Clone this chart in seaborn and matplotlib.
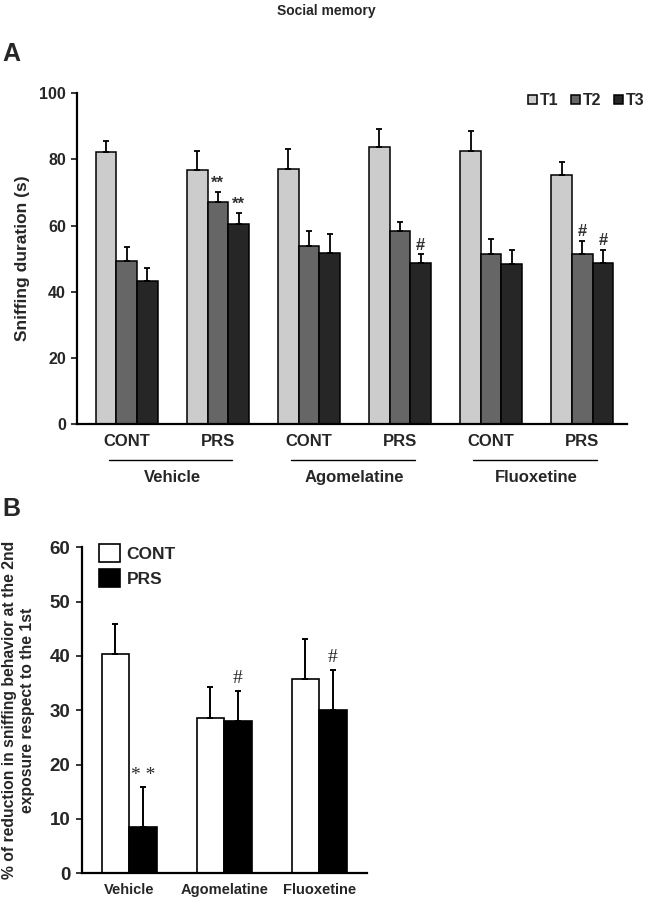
import numpy as np
import pandas as pd
import matplotlib
matplotlib.use("Agg")
import matplotlib.pyplot as plt
import matplotlib.transforms as mtransforms
import seaborn as sns

# ---- data ----
# panel A: sniffing duration (s), 6 groups x 3 trials
group_keys = ["Vehicle CONT", "Vehicle PRS", "Agomelatine CONT",
              "Agomelatine PRS", "Fluoxetine CONT", "Fluoxetine PRS"]
group_ticks = ["CONT", "PRS", "CONT", "PRS", "CONT", "PRS"]
treatments = ["Vehicle", "Agomelatine", "Fluoxetine"]
trials = ["T1", "T2", "T3"]

t1_mean = [82.3, 76.8, 77.2, 83.8, 82.7, 75.3]
t1_err = [3.4, 5.8, 5.9, 5.5, 5.9, 3.8]
t2_mean = [49.2, 67.2, 53.9, 58.3, 51.3, 51.3]
t2_err = [4.3, 2.9, 4.4, 2.9, 4.5, 4.1]
t3_mean = [43.1, 60.6, 51.7, 48.7, 48.4, 48.8]
t3_err = [4.1, 3.2, 5.9, 2.6, 4.3, 3.9]
t1_sig = ["", "", "", "", "", ""]
t2_sig = ["", "**", "", "", "", "#"]
t3_sig = ["", "**", "", "#", "", "#"]

# panel B: % reduction at 2nd exposure
cond_b = ["CONT", "PRS"]
cont_mean = [40.4, 28.5, 35.8]
cont_err = [5.4, 5.7, 7.3]
prs_mean = [8.6, 28.1, 30.1]
prs_err = [7.2, 5.5, 7.3]
prs_sig = ["* *", "#", "#"]

trial_colors = {"T1": "#cccccc", "T2": "#666666", "T3": "#262626"}
cond_colors = {"CONT": "white", "PRS": "black"}

sns.set_style("white")
plt.rcParams["font.family"] = ["Liberation Sans", "DejaVu Sans"]
plt.rcParams["font.weight"] = "bold"

df_a = pd.DataFrame({
    "group": group_keys * 3,
    "trial": [t for t in trials for _ in group_keys],
    "value": t1_mean + t2_mean + t3_mean,
})
errs_a = [t1_err, t2_err, t3_err]
sigs_a = [t1_sig, t2_sig, t3_sig]

df_b = pd.DataFrame({
    "treatment": treatments * 2,
    "cond": [c for c in cond_b for _ in treatments],
    "value": cont_mean + prs_mean,
})
errs_b = [cont_err, prs_err]
sigs_b = [["", "", ""], prs_sig]

fig = plt.figure(figsize=(6.53, 8.99), dpi=100)
axA = fig.add_axes([0.118, 0.5284, 0.842, 0.3678])
axB = fig.add_axes([0.125, 0.0286, 0.4364, 0.3626])

# ---- panel A ----
sns.barplot(data=df_a, x="group", y="value", hue="trial", order=group_keys,
            hue_order=trials, palette=trial_colors, saturation=1, width=0.68,
            edgecolor="black", linewidth=1.1, errorbar=None, ax=axA)

bar_sets = list(axA.containers)
for i, cont in enumerate(bar_sets):
    for j, bar in enumerate(cont):
        x = bar.get_x() + bar.get_width() / 2
        top = bar.get_height()
        e = errs_a[i][j]
        axA.errorbar(x, top, yerr=[[0], [e]], color="black", capsize=2.3,
                     elinewidth=1.3, capthick=1.3)
        if sigs_a[i][j]:
            axA.text(x, top + e + 0.5, sigs_a[i][j], ha="center", va="bottom",
                     fontsize=12, color="#333333")

axA.set_ylim(0, 100)
axA.set_yticks(range(0, 101, 20))
axA.set_xticks(range(6))
axA.set_xticklabels(group_ticks, fontsize=12, fontweight="bold")
axA.tick_params(axis="x", length=0, pad=7)
axA.tick_params(axis="y", left=True, direction="out", length=4, width=1.3,
                labelsize=11.5, pad=4)
axA.set_xlabel("")
axA.set_ylabel("Sniffing duration (s)", fontsize=12.5, fontweight="bold")
axA.yaxis.set_label_coords(-0.086, 0.5)
for s in ["top", "right"]:
    axA.spines[s].set_visible(False)
for s in ["left", "bottom"]:
    axA.spines[s].set_linewidth(1.6)
    axA.spines[s].set_color("black")

trans = mtransforms.blended_transform_factory(axA.transData, axA.transAxes)
for k, name in enumerate(treatments):
    c = 2 * k + 0.5
    axA.plot([c - 0.7, c + 0.66], [-0.109, -0.109], transform=trans,
             color="black", lw=1.0, clip_on=False)
    axA.text(c, -0.163, name, transform=trans, ha="center", va="center",
             fontsize=12, fontweight="bold")
axA.set_xlim(-0.546, 5.49)

handles, labels = axA.get_legend_handles_labels()
axA.legend(handles[:3], labels[:3], ncol=3, loc="center right",
           bbox_to_anchor=(645 / 653, 1 - 100.7 / 899),
           bbox_transform=fig.transFigure, frameon=False, fontsize=11.5,
           handlelength=0.55, handleheight=0.55, handletextpad=0.2,
           columnspacing=0.8, borderaxespad=0, borderpad=0)

# ---- panel B ----
sns.barplot(data=df_b, x="treatment", y="value", hue="cond", order=treatments,
            hue_order=cond_b, palette=cond_colors, saturation=1, width=0.58,
            edgecolor="black", linewidth=1.2, errorbar=None, ax=axB)

bar_sets = list(axB.containers)
for i, cont in enumerate(bar_sets):
    for j, bar in enumerate(cont):
        x = bar.get_x() + bar.get_width() / 2
        top = bar.get_height()
        e = errs_b[i][j]
        axB.errorbar(x, top, yerr=[[0], [e]], color="black", capsize=2.3,
                     elinewidth=1.4, capthick=1.4)
        if sigs_b[i][j]:
            axB.text(x, top + e + 0.7, sigs_b[i][j], ha="center", va="bottom",
                     fontsize=14, fontweight="normal",
                     family=["Liberation Serif", "DejaVu Serif"])

axB.set_xlim(-0.5, 2.5)
axB.set_ylim(0, 60)
axB.set_yticks(range(0, 61, 10))
axB.tick_params(axis="x", length=0, pad=7, labelsize=10.5)
axB.tick_params(axis="y", left=True, direction="out", length=4, width=1.3,
                labelsize=13.5, pad=4)
axB.set_xlabel("")
axB.set_ylabel("% of reduction in sniffing behavior at the 2nd\n"
               "exposure respect to the 1st", fontsize=11.3,
               fontweight="bold", linespacing=1.25)
axB.yaxis.set_label_coords(-0.165, 0.5)
for s in ["top", "right"]:
    axB.spines[s].set_visible(False)
for s in ["left", "bottom"]:
    axB.spines[s].set_linewidth(1.6)
    axB.spines[s].set_color("black")

handles, labels = axB.get_legend_handles_labels()
axB.legend(handles[:2], labels[:2], loc="upper left", bbox_to_anchor=(0.06, 1.01),
           frameon=False, fontsize=12.5, handlelength=1.2, handleheight=1.2,
           handletextpad=0.4, labelspacing=0.4, borderaxespad=0, borderpad=0)

# ---- titles / panel letters ----
fig.text(326 / 653, 1 - 11 / 899, "Social memory", ha="center", va="center",
         fontsize=10, fontweight="bold")
fig.text(2 / 653, 1 - 54 / 899, "A", ha="left", va="center", fontsize=18,
         fontweight="bold")
fig.text(2 / 653, 1 - 509 / 899, "B", ha="left", va="center", fontsize=18,
         fontweight="bold")

fig.savefig("out.png", dpi=100)
